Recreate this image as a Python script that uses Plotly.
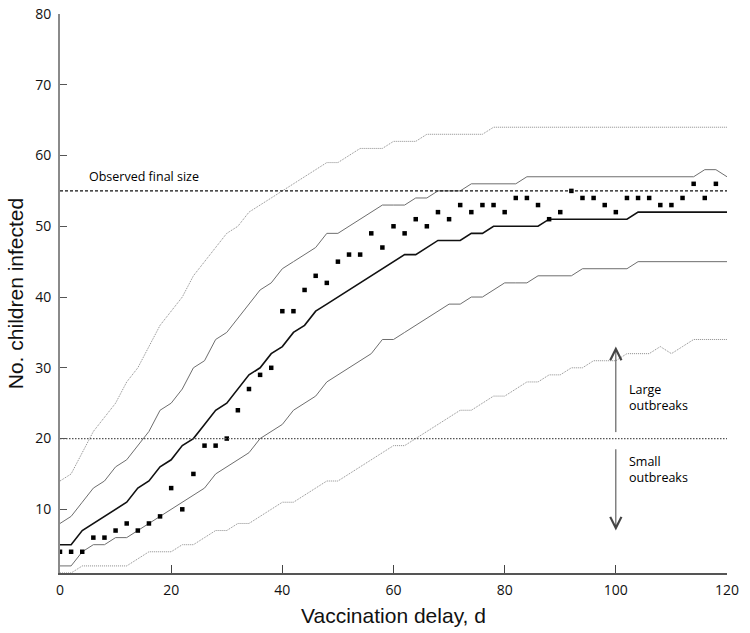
import plotly.graph_objects as go

days_line = list(range(0, 121, 2))
days_obs = list(range(0, 119, 2))

observed = [4, 4, 4, 6, 6, 7, 8, 7, 8, 9, 13, 10, 15, 19, 19, 20, 24, 27, 29, 30,
            38, 38, 41, 43, 42, 45, 46, 46, 49, 47, 50, 49, 51, 50, 52, 51, 53, 52, 53, 53,
            52, 54, 54, 53, 51, 52, 55, 54, 54, 53, 52, 54, 54, 54, 53, 53, 54, 56, 54, 56]

median = [5, 5, 7, 8, 9, 10, 11, 13, 14, 16, 17, 19, 20, 22, 24, 25, 27, 29, 30, 32,
          33, 35, 36, 38, 39, 40, 41, 42, 43, 44, 45, 46, 46, 47, 48, 48, 48, 49, 49, 50,
          50, 50, 50, 50, 51, 51, 51, 51, 51, 51, 51, 51, 52, 52, 52, 52, 52, 52, 52, 52, 52]

inner_upper = [8, 9, 11, 13, 14, 16, 17, 19, 21, 24, 25, 27, 30, 31, 34, 35, 37, 39, 41, 42,
               44, 45, 46, 47, 49, 49, 50, 51, 52, 53, 53, 53, 54, 54, 55, 55, 55, 56, 56, 56,
               56, 56, 57, 57, 57, 57, 57, 57, 57, 57, 57, 57, 57, 57, 57, 57, 57, 57, 58, 58, 57]

inner_lower = [2, 2, 4, 5, 5, 6, 6, 7, 8, 9, 10, 11, 12, 13, 15, 16, 17, 18, 20, 21,
               22, 24, 25, 26, 28, 29, 30, 31, 32, 34, 34, 35, 36, 37, 38, 39, 39, 40, 40, 41,
               42, 42, 42, 43, 43, 43, 43, 44, 44, 44, 44, 44, 45, 45, 45, 45, 45, 45, 45, 45, 45]

outer_upper = [14, 15, 18, 21, 23, 25, 28, 30, 33, 36, 38, 40, 43, 45, 47, 49, 50, 52, 53, 54,
               55, 56, 57, 58, 59, 59, 60, 61, 61, 61, 62, 62, 62, 63, 63, 63, 63, 63, 63, 64,
               64, 64, 64, 64, 64, 64, 64, 64, 64, 64, 64, 64, 64, 64, 64, 64, 64, 64, 64, 64, 64]

outer_lower = [1, 1, 2, 2, 2, 2, 2, 3, 4, 4, 4, 5, 5, 6, 7, 7, 8, 8, 9, 10,
               11, 11, 12, 13, 14, 14, 15, 16, 17, 18, 19, 19, 20, 21, 22, 23, 24, 24, 25, 26,
               26, 27, 28, 28, 29, 29, 30, 30, 31, 31, 31, 32, 32, 32, 33, 32, 33, 34, 34, 34, 34]

observed_final_size = 55
large_threshold = 20

x_ticks = [0, 20, 40, 60, 80, 100, 120]
y_ticks = [10, 20, 30, 40, 50, 60, 70, 80]

fig = go.Figure()

outer_style = dict(color="#8a8a8a", width=1, dash="1px,1px")
inner_style = dict(color="#6e6e6e", width=1)

fig.add_trace(go.Scatter(x=days_line, y=outer_upper, mode="lines", line=outer_style, showlegend=False))
fig.add_trace(go.Scatter(x=days_line, y=outer_lower, mode="lines", line=outer_style, showlegend=False))
fig.add_trace(go.Scatter(x=days_line, y=inner_upper, mode="lines", line=inner_style, showlegend=False))
fig.add_trace(go.Scatter(x=days_line, y=inner_lower, mode="lines", line=inner_style, showlegend=False))
fig.add_trace(go.Scatter(x=days_line, y=median, mode="lines", line=dict(color="#111111", width=1.6), showlegend=False))

fig.add_hline(y=observed_final_size, line=dict(color="#111111", width=1.3, dash="3px,2px"))
fig.add_hline(y=large_threshold, line=dict(color="#555555", width=1.3, dash="1.5px,1.5px"))

fig.add_trace(go.Scatter(x=days_obs, y=observed, mode="markers",
                         marker=dict(symbol="square", size=4.5, color="#000000"), showlegend=False))

txt_font = dict(family="Open Sans, Lato, sans-serif", size=12.5, color="#000000")

fig.add_annotation(x=4.8, y=57.0, text="Observed final size", showarrow=False,
                   xanchor="left", yanchor="middle", font=txt_font)
fig.add_annotation(x=102, y=25.8, text="Large<br>outbreaks", showarrow=False,
                   xanchor="left", yanchor="middle", align="left", font=txt_font)
fig.add_annotation(x=102, y=15.6, text="Small<br>outbreaks", showarrow=False,
                   xanchor="left", yanchor="middle", align="left", font=txt_font)

fig.add_annotation(x=100, y=33, ax=100, ay=20.7, xref="x", yref="y", axref="x", ayref="y",
                   text="", showarrow=True, arrowhead=5, arrowsize=2.2, arrowwidth=1,
                   arrowcolor="#444444")
fig.add_annotation(x=100, y=7, ax=100, ay=18.7, xref="x", yref="y", axref="x", ayref="y",
                   text="", showarrow=True, arrowhead=5, arrowsize=2.2, arrowwidth=1,
                   arrowcolor="#444444")

tick_font = dict(family="Open Sans, Lato, sans-serif", size=14, color="#111111")
title_font = dict(family="Liberation Sans, Arial, sans-serif", size=21, color="#111111")

fig.update_xaxes(range=[0, 120], tickvals=x_ticks, ticktext=[str(v) for v in x_ticks],
                 ticks="inside", ticklen=8, tickwidth=1, tickcolor="#444444",
                 showline=True, linecolor="#555555", linewidth=1.5,
                 showgrid=False, zeroline=False, tickfont=tick_font,
                 ticklabelstandoff=3, automargin=False,
                 title=dict(text="Vaccination delay, d", font=title_font, standoff=11))
fig.update_yaxes(range=[1, 80], tickvals=y_ticks, ticktext=[str(v) for v in y_ticks],
                 ticks="inside", ticklen=7, tickwidth=1, tickcolor="#555555",
                 showline=True, linecolor="#8a8a8a", linewidth=2,
                 showgrid=False, zeroline=False, tickfont=tick_font,
                 ticklabelstandoff=4, automargin=False,
                 title=dict(text="No. children infected", font=title_font, standoff=6))

fig.update_layout(width=750, height=633, margin=dict(l=60, r=23, t=14, b=60),
                  plot_bgcolor="white", paper_bgcolor="white", showlegend=False)

fig.write_html("out.html", config={"displayModeBar": False},
               post_script="document.body.style.margin='0';document.body.style.overflow='hidden';")
